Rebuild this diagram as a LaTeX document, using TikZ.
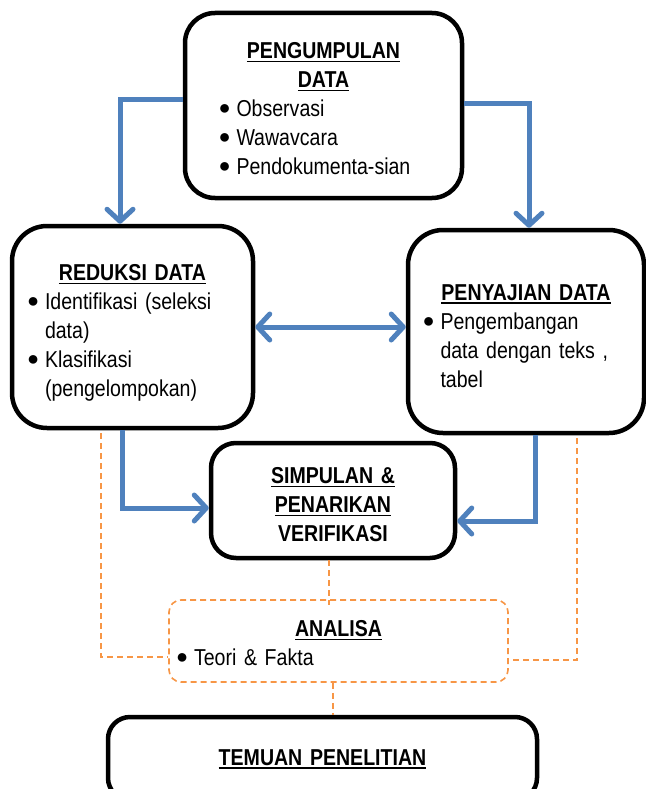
\documentclass[tikz,border=0pt]{standalone}
\usepackage{fontspec}
\setmainfont{Liberation Sans}[FakeStretch=0.85]
\usepackage{graphicx}
\setlength{\parindent}{0pt}
\usepackage{tikz}
\usetikzlibrary{arrows.meta}
\definecolor{biru}{RGB}{79,129,189}
\definecolor{jingga}{RGB}{247,150,70}
\newcommand{\garis}[1]{\leavevmode\setbox0=\hbox{#1}\rlap{\rule[-3.5pt]{\wd0}{1.6pt}}\box0}
\newcommand{\judul}[2][0pt]{{\centering\bfseries\rule{0pt}{\dimexpr16.5pt+#1\relax}#2\par}}
\newcommand{\titik}{{\fontsize{20}{20}\selectfont\raisebox{2pt}{\scalebox{1.18}[1]{●}}}}
\newcommand{\butir}[2][0pt]{{\leftskip=\dimexpr#1+18pt\relax\noindent\llap{\makebox[18pt][l]{\titik}}#2\par}}

\begin{document}
\begin{tikzpicture}[x=1pt,y=-1pt,>={Straight Barb[length=12pt,width=26pt,round]},
    kotak/.style={draw, line width=4.5pt, inner sep=0pt, font=\fontsize{23}{29}\selectfont},
    panah/.style={draw=biru, line width=5pt},
    putus/.style={draw=jingga, line width=1.6pt, dash pattern=on 6pt off 4pt}]
        \useasboundingbox (0,0) rectangle (645,789);
        \node[kotak, rounded corners=30pt, minimum width=277pt, minimum height=185pt, text width=250pt] (kumpul) at (323.5,105.5)
            {\judul[6pt]{\garis{PENGUMPULAN}\\\garis{DATA}}
             \butir[20pt]{Observasi}
             \butir[20pt]{Wawavcara}
             \butir[20pt]{Pendokumenta-sian}};
        \node[kotak, rounded corners=35pt, minimum width=241pt, minimum height=202pt, text width=225pt] (reduksi) at (132.5,327)
            {\judul[12pt]{\garis{REDUKSI DATA}}
             \butir[7pt]{Identifikasi (seleksi\\data)}
             \butir[7pt]{Klasifikasi\\(pengelompokan)}};
        \node[kotak, rounded corners=35pt, minimum width=236pt, minimum height=203pt, text width=215pt] (sajian) at (526,331.5)
            {\judul[8pt]{\garis{PENYAJIAN DATA}}
             \butir[4pt]{Pengembangan\\data dengan teks ,\\tabel}};
        \node[kotak, rounded corners=25pt, minimum width=244pt, minimum height=115pt, text width=220pt] (simpul) at (333,500.5)
            {\judul[8pt]{\garis{SIMPULAN \&}\\\garis{PENARIKAN}\\VERIFIKASI}};
        \node[kotak, draw=jingga, line width=1.6pt, dash pattern=on 6pt off 4pt, rounded corners=12pt, minimum width=339pt, minimum height=82pt, text width=325pt] (analisa) at (338.5,641)
            {\judul[4pt]{\garis{ANALISA}}
             \butir{Teori \& Fakta}};
        \node[kotak, rounded corners=22pt, minimum width=429pt, minimum height=83pt, text width=400pt] (temuan) at (322.5,758.5)
            {\judul{\garis{TEMUAN PENELITIAN}}};
        \draw[panah, ->] ([yshift=5.5pt]kumpul.west) -| ([xshift=-12.5pt]reduksi.north);
        \draw[panah, ->] ([yshift=1.5pt]kumpul.east) -| ([xshift=3pt]sajian.north);
        \draw[panah, <->] (reduksi.east) -- (reduksi.east -| sajian.west);
        \draw[panah, ->] ([xshift=-10.5pt]reduksi.south) |- ([yshift=-7.5pt]simpul.west);
        \draw[panah, ->] ([xshift=9pt]sajian.south) |- ([yshift=-20.5pt]simpul.east);
        \draw[putus] ([xshift=-31.5pt,yshift=-3pt]reduksi.south) |- ([yshift=-16pt]analisa.west);
        \draw[putus] ([xshift=51pt,yshift=-3pt]sajian.south) |- ([yshift=-19pt]analisa.east);
        \draw[putus] ([xshift=-4pt]simpul.south) -- ([xshift=-4pt,yshift=-6pt]simpul.south |- analisa.north);
        \draw[putus] ([xshift=-5.5pt]analisa.south) -- ([xshift=-5.5pt]analisa.south |- temuan.north);
    \end{tikzpicture}
\end{document}
